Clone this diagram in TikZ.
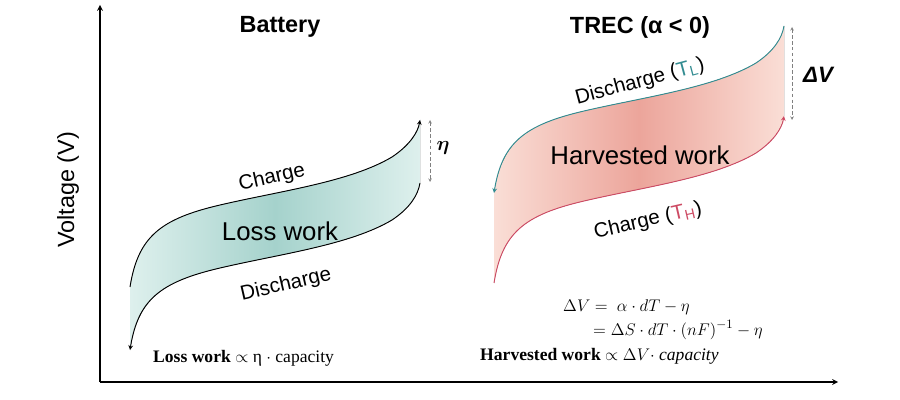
\documentclass[tikz,border=0pt]{standalone}
\usepackage{amsmath}
\usepackage{fontspec}
\setmainfont{Liberation Sans}
\newfontfamily\formfont{Liberation Serif}
\usetikzlibrary{arrows}

\definecolor{tealline}{RGB}{50,140,145}
\definecolor{pinkline}{RGB}{205,75,100}
\definecolor{tealedge}{RGB}{222,240,237}
\definecolor{tealmid}{RGB}{165,210,204}
\definecolor{pinkedge}{RGB}{250,222,214}
\definecolor{pinkmid}{RGB}{236,165,155}

% one S-shaped branch, forward (up to the right) and reverse
\newcommand\sfwd[2]{(#1,#2) .. controls ({#1+8},{#2-50}) and ({#1+30},{#2-68}) .. ({#1+90},{#2-82}) .. controls ({#1+150},{#2-96}) and ({#1+220},{#2-105}) .. ({#1+262},{#2-130}) .. controls ({#1+280},{#2-142}) and ({#1+288},{#2-155}) .. ({#1+290},{#2-167})}
\newcommand\srev[2]{({#1+290},{#2-167}) .. controls ({#1+288},{#2-155}) and ({#1+280},{#2-142}) .. ({#1+262},{#2-130}) .. controls ({#1+220},{#2-105}) and ({#1+150},{#2-96}) .. ({#1+90},{#2-82}) .. controls ({#1+30},{#2-68}) and ({#1+8},{#2-50}) .. (#1,#2)}

\tikzset{
  curve/.style={thick,-stealth},
  gap/.style={densely dashed,gray,<->,>=stealth},
  title/.style={font=\bfseries\fontsize{20}{22}\selectfont},
  lbl/.style={font=\fontsize{17.5}{19}\selectfont,inner sep=1pt},
  big/.style={font=\fontsize{22}{24}\selectfont},
  form/.style={font=\formfont\fontsize{15}{17}\selectfont,anchor=west,inner sep=0pt}
}

\begin{document}
\begin{tikzpicture}[x=0.03cm,y=-0.03cm]
\useasboundingbox (0,0) rectangle (900,400);

% axes
\coordinate (origin) at (100,382);
\coordinate (ytip) at (100,5);
\coordinate (xtip) at (838,382);
\draw[very thick,-stealth] (origin) -- (ytip);
\draw[very thick,-stealth] (origin) -- (xtip);
\node[rotate=90,font=\fontsize{20}{22}\selectfont] (vlabel) at (68,190) {Voltage (V)};

% battery
\fill[left color=tealedge,right color=tealedge,middle color=tealmid] \sfwd{130}{287} -- \srev{130}{350} -- cycle;
\draw[curve] \sfwd{130}{287};
\draw[curve] \srev{130}{350};
\coordinate (etatop) at (430,120);
\coordinate (etabot) at (430,182);
\draw[gap] (etatop) -- (etabot);
\node[font=\bfseries\fontsize{19}{21}\selectfont] (eta) at (443,148) {$\boldsymbol{\eta}$};
\node[title] (battery) at (280,27) {Battery};
\node[lbl,rotate=13] (charge) at (272,178) {Charge};
\node[big] (loss) at (280,231) {Loss work};
\node[lbl,rotate=13] (discharge) at (286,285) {Discharge};
\node[form] (lossform) at (153,358) {\textbf{Loss work} $\propto$ η $\cdot$ capacity};

% TREC
\fill[left color=pinkedge,right color=pinkedge,middle color=pinkmid] \srev{494}{193} -- \sfwd{494}{283} -- cycle;
\draw[curve,tealline] \srev{494}{193};
\draw[curve,pinkline] \sfwd{494}{283};
\coordinate (dvtop) at (792,27);
\coordinate (dvbot) at (792,120);
\draw[gap] (dvtop) -- (dvbot);
\node[font=\bfseries\itshape\fontsize{19}{21}\selectfont] (dv) at (818,75) {ΔV};
\node[title] (trec) at (640,27) {TREC (α < 0)};
\node[lbl,rotate=15] (dischargeL) at (640,82) {Discharge ({\color{tealline}T\textsubscript{L}})};
\node[big] (harvest) at (640,155) {Harvested work};
\node[lbl,rotate=13] (chargeH) at (648,221) {Charge ({\color{pinkline}T\textsubscript{H}})};
\node[form] (f1) at (563,307) {$\Delta V = \ \alpha\cdot dT - \eta$};
\node[form] (f2) at (593,330) {$= \Delta S\cdot dT\cdot (nF)^{-1} - \eta$};
\node[form] (f3) at (480,356) {\textbf{Harvested work} $\propto \Delta V\cdot$ \textit{capacity}};
\end{tikzpicture}
\end{document}
